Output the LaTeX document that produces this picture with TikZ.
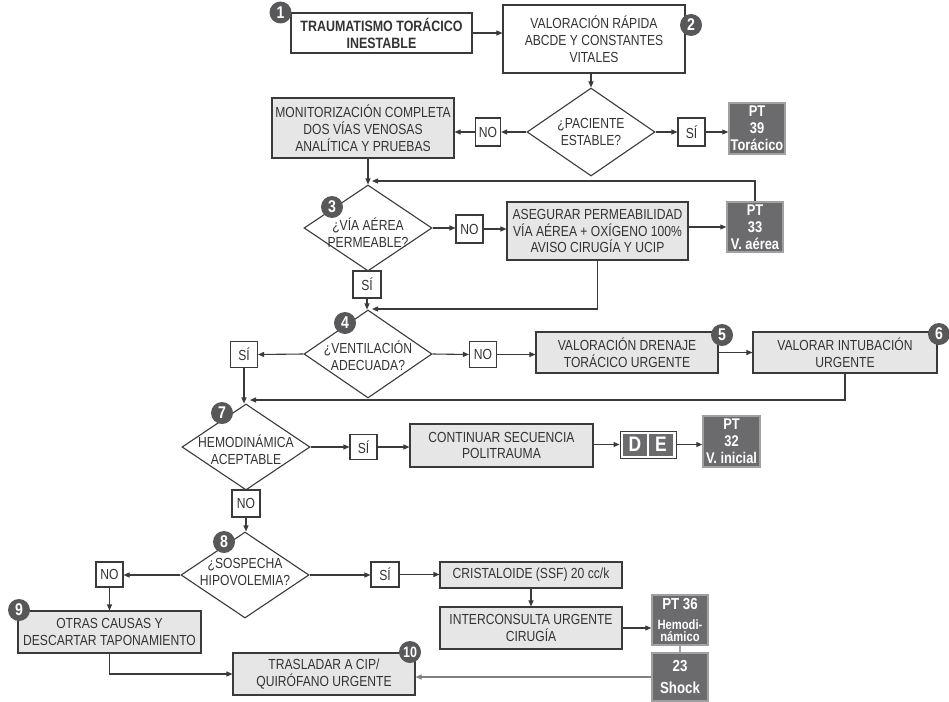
\documentclass[tikz,border=0pt]{standalone}
\usepackage{fontspec}
\setmainfont{Liberation Sans}[FakeStretch=0.83]
\usetikzlibrary{arrows.meta,shapes.geometric,calc}
\definecolor{lc}{HTML}{3A3A3A}
\definecolor{tc}{HTML}{333333}
\definecolor{gf}{HTML}{E6E6E7}
\definecolor{ptc}{HTML}{6B6B6E}
\definecolor{ptb}{HTML}{A0A0A2}
\definecolor{bdc}{HTML}{58585B}
\tikzset{
 ln/.style={draw=lc,line width=1.1pt},
 arr/.style={ln,-{Triangle[length=6pt,width=5pt]}},
 tx/.style={text=tc,font=\fontsize{14.6}{16.8}\selectfont,align=center,inner sep=0pt},
 bx/.style={tx,draw=lc,line width=1.1pt,rectangle,inner sep=0pt,fill=white},
 gbx/.style={bx,fill=gf},
 yn/.style={bx,minimum width=27pt,minimum height=26pt},
 ptbox/.style={rectangle,fill=ptc,draw=ptb,line width=1.5pt,text=white,inner sep=0pt,align=center,font=\bfseries\fontsize{15.5}{17}\selectfont,minimum width=56pt,minimum height=50pt},
 badge/.style={circle,fill=bdc,text=white,inner sep=0pt,minimum size=22pt,font=\bfseries\fontsize{17}{17}\selectfont},
 dia/.style={diamond,draw=lc,line width=1.1pt,inner sep=0pt,minimum width=128pt,minimum height=86pt,fill=white},
 desq/.style={fill=ptc,text=white,font=\bfseries\fontsize{21}{21}\selectfont,minimum width=24pt,minimum height=22pt,inner sep=0pt}
}
\begin{document}
\begin{tikzpicture}[x=1pt,y=-1pt]
\path[use as bounding box,fill=white] (0,0) rectangle (949,701);

% nodes
\node[bx,minimum width=181pt,minimum height=40pt,font=\bfseries\fontsize{15}{17}\selectfont,line width=1.4pt] (b1) at (381.5,33) {TRAUMATISMO TORÁCICO\\INESTABLE};
\node[bx,minimum width=182pt,minimum height=68pt] (b2) at (594,39) {VALORACIÓN RÁPIDA\\ABCDE Y CONSTANTES\\VITALES};
\node[dia,minimum height=88pt] (d1) at (591,132) {};
\node[tx] (d1t) at (591,132) {¿PACIENTE\\ESTABLE?};
\node[yn,minimum width=25pt,minimum height=28pt] (no1) at (488,132) {NO};
\node[gbx,minimum width=182pt,minimum height=60pt] (mon) at (363,128) {MONITORIZACIÓN COMPLETA\\DOS VÍAS VENOSAS\\ANALÍTICA Y PRUEBAS};
\node[yn,minimum height=28pt] (si1) at (691.5,132) {SÍ};
\node[ptbox,minimum height=51pt] (pt39) at (757,128.5) {PT\\39\\Torácico};

\node[dia] (d3) at (368,228) {};
\node[tx] (d3t) at (368,233) {¿VÍA AÉREA\\PERMEABLE?};
\node[yn,minimum height=28pt] (no3) at (469.5,229) {NO};
\node[gbx,minimum width=181pt,minimum height=58pt] (ase) at (597.5,231) {ASEGURAR PERMEABILIDAD\\VÍA AÉREA + OXÍGENO 100\%\\AVISO CIRUGÍA Y UCIP};
\node[ptbox] (pt33) at (755,227) {PT\\33\\V. aérea};
\node[yn,minimum width=28pt,minimum height=27pt] (si3) at (367,284.5) {SÍ};

\node[dia,minimum height=88pt] (d4) at (368,354) {};
\node[tx] (d4t) at (368,356) {¿VENTILACIÓN\\ADECUADA?};
\node[yn] (si4) at (244,354.5) {SÍ};
\node[yn] (no4) at (483,354.5) {NO};
\node[gbx,minimum width=182pt,minimum height=41pt] (dren) at (627,352.5) {VALORACIÓN DRENAJE\\TORÁCICO URGENTE};
\node[gbx,minimum width=184pt,minimum height=41pt] (intu) at (845,352.5) {VALORAR INTUBACIÓN\\URGENTE};

\node[dia] (d7) at (246,447) {};
\node[tx] (d7t) at (246,450) {HEMODINÁMICA\\ACEPTABLE};
\node[yn,minimum height=25pt] (si7) at (363.5,447) {SÍ};
\node[gbx,minimum width=183pt,minimum height=43pt] (cont) at (501.5,445.5) {CONTINUAR SECUENCIA\\POLITRAUMA};
\node[draw=lc,line width=1pt,fill=white,minimum width=56pt,minimum height=27pt,inner sep=0pt] (de) at (648,444.5) {};
\node[desq] (dd) at (635,444.5) {D};
\node[desq] (ee) at (661,444.5) {E};
\node[ptbox,minimum width=57pt,minimum height=51pt] (pt32) at (731.5,441.5) {PT\\32\\V. inicial};

\node[yn,minimum width=28pt,minimum height=27pt] (no7) at (246,503.5) {NO};
\node[dia] (d8) at (245,575) {};
\node[tx] (d8t) at (245,572) {¿SOSPECHA\\HIPOVOLEMIA?};
\node[yn,minimum height=25pt] (no8) at (109.5,574.5) {NO};
\node[gbx,minimum width=183pt,minimum height=42pt] (otras) at (109.5,632) {OTRAS CAUSAS Y\\DESCARTAR TAPONAMIENTO};
\node[gbx,minimum width=182pt,minimum height=42pt] (tras) at (324,674) {TRASLADAR A CIP/\\QUIRÓFANO URGENTE};
\node[yn,minimum width=28pt,minimum height=25pt] (si8) at (385,574.5) {SÍ};
\node[gbx,minimum width=182pt,minimum height=26pt] (cris) at (531,575) {CRISTALOIDE (SSF) 20 cc/k};
\node[gbx,minimum width=182pt,minimum height=42pt] (inter) at (531,628) {INTERCONSULTA URGENTE\\CIRUGÍA};
\node[ptbox] (pt36) at (680,620) {{\fontsize{16}{16}\selectfont PT 36}\\[3pt]{\fontsize{13.5}{11}\selectfont Hemodi-}\\[-5pt]{\fontsize{13.5}{11}\selectfont námico}};
\node[ptbox,minimum height=48pt,font=\bfseries\fontsize{16}{17}\selectfont] (b23) at (680,677) {23\\[5pt]Shock};

% connectors
\coordinate (c3) at (372,181);
\coordinate (c4) at (372,309);
\coordinate (c7) at (250,400);
\draw[arr] (b1.east) -- (b2.west |- b1.east);
\draw[arr] (b2.south -| d1.north) -- (d1.north);
\draw[arr] (d1.west) -- (no1.east);
\draw[arr] (no1.west) -- (mon.east |- no1.west);
\draw[arr] (d1.east) -- (si1.west);
\draw[arr] (si1.east) -- (pt39.west |- si1.east);
\draw[arr] (mon.south -| d3.north) -- (d3.north);
\draw[arr] (pt33.north) |- (c3);
\draw[arr] (d3.east) -- (no3.west |- d3.east);
\draw[arr] (no3.east) -- (ase.west |- no3.east);
\draw[arr] (ase.east |- pt33.west) -- (pt33.west);
\draw[arr] (si3.south) -- (si3.south |- d4.north);
\draw[arr] (ase.south) |- (c4);
\draw[arr] (d4.west) -- (si4.east);
\draw[arr] (si4.south) -- (si4.south |- d7.north);
\draw[arr] (d4.east) -- (no4.west);
\draw[arr] (no4.east) -- (dren.west |- no4.east);
\draw[arr] (dren.east) -- (intu.west);
\draw[arr] (intu.south) |- (c7);
\draw[arr] (d7.east) -- (si7.west);
\draw[arr] (si7.east) -- (cont.west |- si7.east);
\draw[arr] (cont.east |- de.west) -- (de.west);
\draw[arr] (de.east) -- (pt32.west |- de.east);
\draw[arr] (no7.south) -- (no7.south |- d8.north);
\draw[arr] (d8.west) -- (no8.east |- d8.west);
\draw[arr] (no8.south) -- (otras.north);
\draw[arr] (d8.east) -- (si8.west |- d8.east);
\draw[arr] (si8.east) -- (cris.west |- si8.east);
\draw[arr] (cris.south) -- (inter.north);
\draw[arr] (inter.east) -- (pt36.west |- inter.east);
\draw[draw=ptb,line width=2pt] (pt36.south) -- (b23.north);
\draw[arr,draw=gray] (b23.west) -- (tras.east |- b23.west);
\draw[arr] (otras.south) |- (tras.west);

% badges
\node[badge] (n1) at (280.5,12.5) {1};
\node[badge] (n2) at (691,25) {2};
\node[badge] (n3) at (332,207) {3};
\node[badge] (n4) at (345,323) {4};
\node[badge] (n5) at (722,335) {5};
\node[badge] (n6) at (939,334) {6};
\node[badge] (n7) at (222,413) {7};
\node[badge] (n8) at (224,542) {8};
\node[badge] (n9) at (19,610) {9};
\node[badge,font=\bfseries\fontsize{15}{15}\selectfont] (n10) at (410,652) {10};
\end{tikzpicture}
\end{document}
